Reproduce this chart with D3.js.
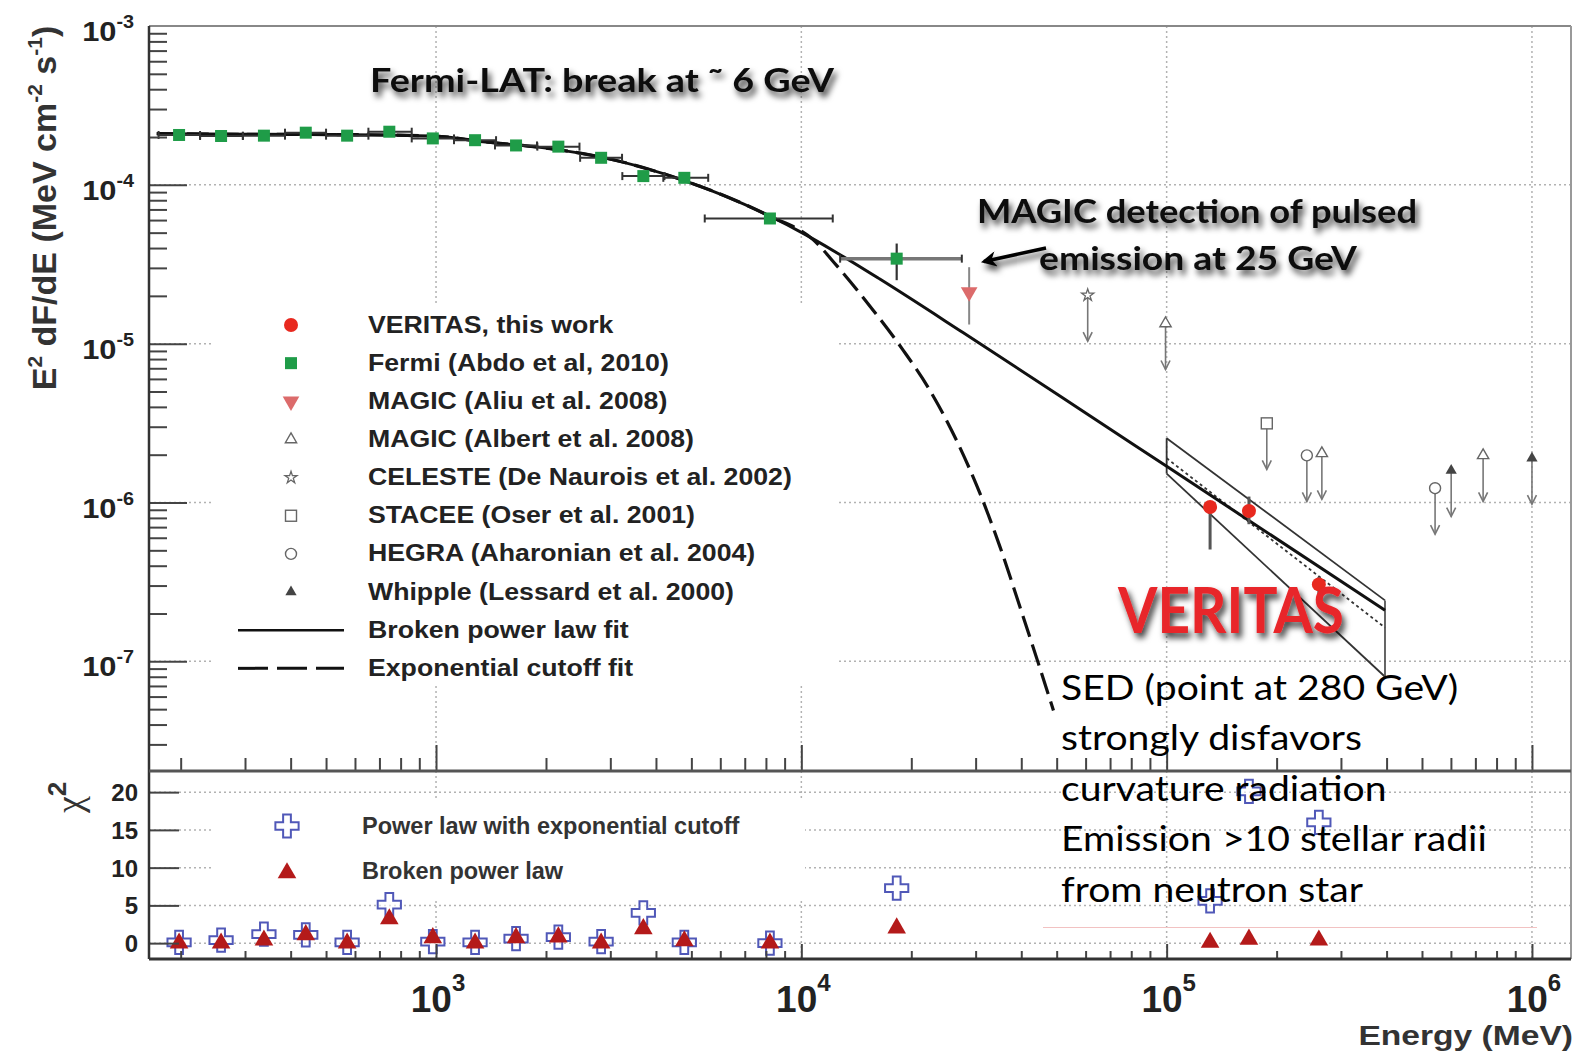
<!DOCTYPE html>
<html>
<head>
<meta charset="utf-8">
<script src="https://cdn.jsdelivr.net/npm/d3@7"></script>
<style>
  html, body { margin: 0; padding: 0; background: #fff; }
  svg { display: block; }
</style>
</head>
<body>
<svg id="chart" width="1579" height="1058"></svg>
<script>
// ---- values (energy in MeV, E^2 dF/dE in MeV cm^-2 s^-1) ----
const fermiE    = [198, 258, 338, 440, 571, 745, 980, 1279, 1656, 2162, 2831, 3694, 4783, 8204, 18240];
const fermiF    = [2.06e-4, 2.03e-4, 2.04e-4, 2.13e-4, 2.04e-4, 2.16e-4, 1.96e-4, 1.91e-4, 1.77e-4, 1.74e-4, 1.48e-4, 1.135e-4, 1.107e-4, 6.14e-5, 3.43e-5];
const fermiElo  = [174, 226, 296, 386, 500, 653, 858, 1120, 1450, 1894, 2480, 3236, 4190, 5440, 12770];
const fermiEhi  = [226, 296, 386, 500, 653, 858, 1120, 1460, 1890, 2470, 3230, 4220, 5560, 12190, 27500];
const fermiFlo  = [2.0e-4, 1.97e-4, 1.98e-4, 2.07e-4, 1.98e-4, 2.09e-4, 1.9e-4, 1.85e-4, 1.71e-4, 1.68e-4, 1.42e-4, 1.08e-4, 1.04e-4, 5.7e-5, 2.51e-5];
const fermiFhi  = [2.12e-4, 2.09e-4, 2.1e-4, 2.19e-4, 2.1e-4, 2.23e-4, 2.02e-4, 1.97e-4, 1.83e-4, 1.8e-4, 1.54e-4, 1.19e-4, 1.17e-4, 6.6e-5, 4.27e-5];

const veritasE   = [131500, 168000, 261000];
const veritasF   = [9.37e-7, 8.85e-7, 3.05e-7];
const veritasFlo = [5.06e-7, 7.3e-7, 2.5e-7];
const veritasFhi = [1.0e-6, 1.09e-6, 3.4e-7];

const magicAliuE   = [28800];
const magicAliuF   = [2.11e-5];
const magicAliuFlo = [1.32e-5];
const magicAliuFhi = [3.03e-5];

// upper limits
const celesteE     = [60800];
const celesteF     = [2.02e-5];
const magicAlbertE = [99300, 266000, 735000];
const magicAlbertF = [1.34e-5, 2.04e-6, 1.98e-6];
const staceeE      = [188000];
const staceeF      = [3.15e-6];
const hegraE       = [242000, 543000];
const hegraF       = [1.98e-6, 1.23e-6];
const whippleE     = [601000, 1000000];
const whippleF     = [1.59e-6, 1.90e-6];

// fitted curves
const brokenFitE = [172, 310, 582, 982, 1346, 2051, 2812, 4742, 8204, 10000, 12500, 16400, 27700, 57900, 100000, 396000];
const brokenFitF = [2.10e-4, 2.08e-4, 2.07e-4, 2.03e-4, 1.87e-4, 1.69e-4, 1.50e-4, 1.07e-4, 6.34e-5, 5.02e-5, 3.74e-5, 2.55e-5, 1.175e-5, 3.87e-6, 1.69e-6, 2.10e-7];
const cutoffFitE = [172, 310, 582, 982, 1346, 2051, 2812, 4742, 8204, 10770, 12500, 15740, 19010, 22490, 26600, 30830, 35000, 39700, 44600, 49000];
const cutoffFitF = [2.10e-4, 2.08e-4, 2.07e-4, 2.03e-4, 1.87e-4, 1.69e-4, 1.50e-4, 1.07e-4, 6.34e-5, 4.52e-5, 3.10e-5, 1.62e-5, 9.08e-6, 5.08e-6, 2.46e-6, 1.14e-6, 5.24e-7, 2.19e-7, 9.64e-8, 4.90e-8];

// VERITAS butterfly
const bowE      = [100000, 396000];
const bowUpperF = [2.54e-6, 2.42e-7];
const bowLowerF = [1.52e-6, 8.0e-8];
const bowBestF  = [1.90e-6, 1.63e-7];

// chi^2 panel
const chiE       = [198, 258, 338, 440, 571, 745, 980, 1279, 1656, 2162, 2831, 3694, 4783, 8204, 18240, 131500, 168000, 261000];
const chiCutoff  = [0.1, 0.4, 1.2, 1.1, 0.1, 5.1, 0.2, 0.1, 0.6, 0.8, 0.2, 4.0, 0.1, 0.0, 7.3, 5.6, 20.1, 16.0];
const chiBroken  = [0.0, 0.0, 0.4, 1.1, 0.0, 3.2, 0.7, 0.0, 0.7, 0.8, 0.0, 1.9, 0.3, 0.0, 2.0, 0.1, 0.5, 0.4];

// ticks / labels
const xDecades   = [1e3, 1e4, 1e5, 1e6];
const xExps      = ['3', '4', '5', '6'];
const yDecades   = [1e-3, 1e-4, 1e-5, 1e-6, 1e-7];
const yExps      = ['-3', '-4', '-5', '-6', '-7'];
const chiTicks   = [0, 5, 10, 15, 20];

const legendLabels = ['VERITAS, this work', 'Fermi (Abdo et al, 2010)', 'MAGIC (Aliu et al. 2008)',
  'MAGIC (Albert et al. 2008)', 'CELESTE (De Naurois et al. 2002)', 'STACEE (Oser et al. 2001)',
  'HEGRA (Aharonian et al. 2004)', 'Whipple (Lessard et al. 2000)', 'Broken power law fit', 'Exponential cutoff fit'];
const legendKinds = ['veritas', 'fermi', 'magicAliu', 'magicAlbert', 'celeste', 'stacee', 'hegra', 'whipple', 'solid', 'dashed'];
const chiLegendLabels = ['Power law with exponential cutoff', 'Broken power law'];
const noteLines = ['SED (point at 280 GeV)', 'strongly disfavors', 'curvature radiation', 'Emission >10 stellar radii', 'from neutron star'];

// ---- layout ----
const pLeft = 149, pRight = 1571, pTop = 26, pMid = 771, pBottom = 959;
const rootFont = '"Liberation Sans", Arial, Helvetica, sans-serif';
const posterFont = 'Lato, "Open Sans", sans-serif';

const svg = d3.select('#chart');
svg.append('rect').attr('width', 1579).attr('height', 1058).attr('fill', '#fff');

const x  = d3.scaleLog().domain([163.8, 1.279e6]).range([pLeft, pRight]);
const y  = d3.scaleLog().domain([2.04e-8, 1e-3]).range([pMid, pTop]);
const y2 = d3.scaleLinear().domain([-2.1, 22.8]).range([pBottom, pMid]);

const defs = svg.append('defs');
defs.append('filter').attr('id', 'shadow')
  .attr('x', '-20%').attr('y', '-50%').attr('width', '140%').attr('height', '220%')
  .append('feDropShadow').attr('dx', 3).attr('dy', 5).attr('stdDeviation', 3.2)
  .attr('flood-color', '#000').attr('flood-opacity', 0.75);
defs.append('marker').attr('id', 'head').attr('viewBox', '0 0 10 10')
  .attr('refX', 8).attr('refY', 5).attr('markerWidth', 5).attr('markerHeight', 4.4)
  .attr('orient', 'auto')
  .append('path').attr('d', 'M0,0 L10,5 L0,10 L3,5 z').attr('fill', '#000');
defs.append('clipPath').attr('id', 'topclip')
  .append('rect').attr('x', pLeft).attr('y', pTop).attr('width', pRight - pLeft).attr('height', pMid - pTop);

// ---- grid ----
const grid = svg.append('g').attr('stroke', '#b2b2b2').attr('stroke-width', 1.5).attr('stroke-dasharray', '2,3');
grid.selectAll('line.gx').data(xDecades).join('line').attr('class', 'gx')
  .attr('x1', d => x(d)).attr('x2', d => x(d)).attr('y1', pTop).attr('y2', pBottom);
grid.selectAll('line.gy').data(yDecades.slice(1)).join('line').attr('class', 'gy')
  .attr('x1', pLeft).attr('x2', pRight).attr('y1', d => y(d)).attr('y2', d => y(d));
grid.selectAll('line.gc').data(chiTicks).join('line').attr('class', 'gc')
  .attr('x1', pLeft).attr('x2', pRight).attr('y1', d => y2(d)).attr('y2', d => y2(d));

// legend backgrounds hide the grid
svg.append('rect').attr('x', 213).attr('y', 305).attr('width', 624).attr('height', 379).attr('fill', '#fff');
svg.append('rect').attr('x', 214).attr('y', 800).attr('width', 591).attr('height', 98).attr('fill', '#fff');

// ---- markers ----
const sym = (type, size) => d3.symbol().type(type).size(size)();
function marker(g, kind, cx, cy) {
  const t = `translate(${cx},${cy})`;
  switch (kind) {
    case 'veritas':
      g.append('circle').attr('cx', cx).attr('cy', cy).attr('r', 7).attr('fill', '#e8291f'); break;
    case 'fermi':
      g.append('rect').attr('x', cx - 6).attr('y', cy - 6).attr('width', 12).attr('height', 12).attr('fill', '#1f9c48'); break;
    case 'magicAliu':
      g.append('path').attr('d', sym(d3.symbolTriangle, 120)).attr('transform', t + ' rotate(180)').attr('fill', '#dc6b6b'); break;
    case 'magicAlbert':
      g.append('path').attr('d', sym(d3.symbolTriangle, 55)).attr('transform', t)
        .attr('fill', '#fff').attr('stroke', '#666').attr('stroke-width', 1.4); break;
    case 'celeste':
      g.append('path').attr('d', sym(d3.symbolStar, 45)).attr('transform', t)
        .attr('fill', '#fff').attr('stroke', '#666').attr('stroke-width', 1.3); break;
    case 'stacee':
      g.append('rect').attr('x', cx - 5.5).attr('y', cy - 5.5).attr('width', 11).attr('height', 11)
        .attr('fill', '#fff').attr('stroke', '#666').attr('stroke-width', 1.4); break;
    case 'hegra':
      g.append('circle').attr('cx', cx).attr('cy', cy).attr('r', 5.5)
        .attr('fill', '#fff').attr('stroke', '#666').attr('stroke-width', 1.4); break;
    case 'whipple':
      g.append('path').attr('d', sym(d3.symbolTriangle, 55)).attr('transform', t).attr('fill', '#444'); break;
  }
}

// ---- fits ----
const curves = svg.append('g').attr('clip-path', 'url(#topclip)');
const fitLine = d3.line().x(d => x(d[0])).y(d => y(d[1])).curve(d3.curveMonotoneX);

// butterfly
const bow = curves.append('g').attr('fill', 'none').attr('stroke', '#333').attr('stroke-width', 1.8);
bow.append('path').attr('d', fitLine(d3.zip(bowE, bowUpperF)));
bow.append('path').attr('d', fitLine(d3.zip(bowE, bowLowerF)));
bowE.forEach((e, i) => bow.append('line').attr('x1', x(e)).attr('x2', x(e))
  .attr('y1', y(bowUpperF[i])).attr('y2', y(bowLowerF[i])).attr('stroke', i ? '#555' : '#333'));
bow.append('path').attr('d', fitLine(d3.zip(bowE, bowBestF))).attr('stroke-dasharray', '3,3');

curves.append('path').attr('d', fitLine(d3.zip(cutoffFitE, cutoffFitF)))
  .attr('fill', 'none').attr('stroke', '#111').attr('stroke-width', 3.2).attr('stroke-dasharray', '22,8');
curves.append('path').attr('d', fitLine(d3.zip(brokenFitE, brokenFitF)))
  .attr('fill', 'none').attr('stroke', '#111').attr('stroke-width', 3);

// ---- data points ----
const pts = svg.append('g');
fermiE.forEach((e, i) => {
  const cy = y(fermiF[i]);
  pts.append('line').attr('x1', x(fermiElo[i])).attr('x2', x(fermiEhi[i])).attr('y1', cy).attr('y2', cy)
    .attr('stroke', i === 14 ? '#777' : '#333').attr('stroke-width', i === 14 ? 3.5 : 2);
  [fermiElo[i], fermiEhi[i]].forEach(v => pts.append('line').attr('x1', x(v)).attr('x2', x(v))
    .attr('y1', cy - 4).attr('y2', cy + 4).attr('stroke', '#333').attr('stroke-width', 2));
  pts.append('line').attr('x1', x(e)).attr('x2', x(e)).attr('y1', y(fermiFlo[i])).attr('y2', y(fermiFhi[i]))
    .attr('stroke', '#333').attr('stroke-width', 2.2);
});
fermiE.forEach((e, i) => marker(pts, 'fermi', x(e), y(fermiF[i])));

magicAliuE.forEach((e, i) => {
  pts.append('line').attr('x1', x(e)).attr('x2', x(e)).attr('y1', y(magicAliuFlo[i])).attr('y2', y(magicAliuFhi[i]))
    .attr('stroke', '#888').attr('stroke-width', 2);
  marker(pts, 'magicAliu', x(e), y(magicAliuF[i]));
});

veritasE.forEach((e, i) => {
  pts.append('line').attr('x1', x(e)).attr('x2', x(e)).attr('y1', y(veritasFlo[i])).attr('y2', y(veritasFhi[i]))
    .attr('stroke', '#555').attr('stroke-width', 3);
  marker(pts, 'veritas', x(e), y(veritasF[i]));
});

function upperLimit(kind, E, F) {
  const cx = x(E), cy = y(F), tip = cy + 46;
  const g = pts.append('g').attr('stroke', '#777').attr('stroke-width', 1.6).attr('fill', 'none');
  g.append('line').attr('x1', cx).attr('x2', cx).attr('y1', cy).attr('y2', tip);
  g.append('path').attr('d', `M${cx - 4.5},${tip - 9}L${cx},${tip}L${cx + 4.5},${tip - 9}`);
  marker(pts, kind, cx, cy);
}
celesteE.forEach((e, i) => upperLimit('celeste', e, celesteF[i]));
magicAlbertE.forEach((e, i) => upperLimit('magicAlbert', e, magicAlbertF[i]));
staceeE.forEach((e, i) => upperLimit('stacee', e, staceeF[i]));
hegraE.forEach((e, i) => upperLimit('hegra', e, hegraF[i]));
whippleE.forEach((e, i) => upperLimit('whipple', e, whippleF[i]));

// chi^2 markers
const chiG = svg.append('g');
function chiCross(cx, cy) {
  chiG.append('path').attr('d', sym(d3.symbolCross, 300)).attr('transform', `translate(${cx},${cy})`)
    .attr('fill', '#fff').attr('fill-opacity', 0.6).attr('stroke', '#5058b8').attr('stroke-width', 2);
}
function chiTri(cx, cy) {
  chiG.append('path').attr('d', sym(d3.symbolTriangle, 150)).attr('transform', `translate(${cx},${cy})`)
    .attr('fill', '#b41a1a');
}
chiE.forEach((e, i) => chiCross(x(e), y2(chiCutoff[i])));
chiE.forEach((e, i) => chiTri(x(e), y2(chiBroken[i])));

// ---- axes (ticks inside, ROOT style) ----
const isDecade = v => Math.abs(Math.log10(v) - Math.round(Math.log10(v))) < 1e-6;
function tickAxis(axis, tx, ty, values, size) {
  const g = svg.append('g').attr('transform', `translate(${tx},${ty})`)
    .call(axis.tickValues(values).tickSize(size).tickFormat(''));
  g.select('.domain').remove();
  g.selectAll('line').attr('stroke', '#444').attr('stroke-width', 2);
}
const yMinor = y.ticks().filter(v => !isDecade(v));
const xMinor = x.ticks().filter(v => !isDecade(v));
tickAxis(d3.axisRight(y), pLeft, 0, yDecades.slice(1), 38);
tickAxis(d3.axisRight(y), pLeft, 0, yMinor, 18);
tickAxis(d3.axisTop(x), 0, pMid, xDecades, 26);
tickAxis(d3.axisTop(x), 0, pMid, xMinor, 13);
tickAxis(d3.axisTop(x), 0, pBottom, xDecades, 15);
tickAxis(d3.axisTop(x), 0, pBottom, xMinor, 8);
tickAxis(d3.axisRight(y2), pLeft, 0, chiTicks, 30);

// frame
const frame = svg.append('g').attr('fill', 'none');
frame.append('line').attr('x1', pLeft).attr('x2', pRight).attr('y1', pTop).attr('y2', pTop).attr('stroke', '#888').attr('stroke-width', 2);
frame.append('line').attr('x1', pRight).attr('x2', pRight).attr('y1', pTop).attr('y2', pBottom).attr('stroke', '#999').attr('stroke-width', 2);
frame.append('line').attr('x1', pLeft).attr('x2', pLeft).attr('y1', pTop).attr('y2', pBottom).attr('stroke', '#333').attr('stroke-width', 2.5);
frame.append('line').attr('x1', pLeft).attr('x2', pRight).attr('y1', pMid).attr('y2', pMid).attr('stroke', '#555').attr('stroke-width', 3);
frame.append('line').attr('x1', pLeft).attr('x2', pRight).attr('y1', pBottom).attr('y2', pBottom).attr('stroke', '#333').attr('stroke-width', 3);

// ---- tick labels ----
const labels = svg.append('g').attr('font-family', rootFont).attr('font-weight', 'bold').attr('fill', '#222');
yDecades.forEach((d, i) => {
  const t = labels.append('text').attr('text-anchor', 'end')
    .attr('transform', `translate(134,${y(d) + 15}) scale(1.1,1)`);
  t.append('tspan').attr('font-size', 28).text('10');
  t.append('tspan').attr('font-size', 18).attr('dy', -13).text(yExps[i]);
});
xDecades.forEach((d, i) => {
  const t = labels.append('text').attr('text-anchor', 'middle')
    .attr('x', x(d) + 2).attr('y', 1012);
  t.append('tspan').attr('font-size', 37).text('10');
  t.append('tspan').attr('font-size', 24).attr('dy', -21).text(xExps[i]);
});
labels.selectAll('text.chi').data(chiTicks).join('text').attr('class', 'chi')
  .attr('x', 138).attr('y', d => y2(d) + 9).attr('text-anchor', 'end').attr('font-size', 24).text(d => d);

// axis titles
const yt = labels.append('text').attr('text-anchor', 'middle').attr('font-size', 34).attr('fill', '#333')
  .attr('transform', 'translate(56,208) rotate(-90)');
yt.append('tspan').text('E');
yt.append('tspan').attr('font-size', 21).attr('dy', -14).text('2');
yt.append('tspan').attr('dy', 14).text(' dF/dE (MeV cm');
yt.append('tspan').attr('font-size', 21).attr('dy', -14).text('-2');
yt.append('tspan').attr('dy', 14).text(' s');
yt.append('tspan').attr('font-size', 21).attr('dy', -14).text('-1');
yt.append('tspan').attr('dy', 14).text(')');

const ct = svg.append('text').attr('font-family', '"Liberation Serif", serif').attr('font-size', 38).attr('fill', '#333')
  .attr('transform', 'translate(82,813) rotate(-90)');
ct.append('tspan').text('χ');
ct.append('tspan').attr('font-size', 26).attr('dy', -16).attr('font-family', rootFont).attr('font-weight', 'bold').text('2');

labels.append('text').attr('text-anchor', 'end').attr('font-size', 28).attr('fill', '#333')
  .attr('transform', 'translate(1573,1045) scale(1.2,1)').text('Energy (MeV)');

// ---- legends ----
const leg = svg.append('g');
legendLabels.forEach((lab, i) => {
  const cy = 325 + i * 38.15;
  const kind = legendKinds[i];
  if (kind === 'solid' || kind === 'dashed') {
    leg.append('line').attr('x1', 238).attr('x2', 344).attr('y1', cy).attr('y2', cy)
      .attr('stroke', '#111').attr('stroke-width', kind === 'solid' ? 2.5 : 3)
      .attr('stroke-dasharray', kind === 'dashed' ? '30,9' : null);
  } else {
    marker(leg, kind, 291, cy);
  }
  leg.append('text').attr('transform', `translate(368,${cy + 7.5}) scale(1.16,1)`)
    .attr('font-family', rootFont).attr('font-weight', 'bold').attr('font-size', 23).attr('fill', '#222').text(lab);
});
chiCross(287, 826);
chiTri(287, 873);
chiLegendLabels.forEach((lab, i) => {
  leg.append('text').attr('x', 362).attr('y', 834 + i * 45)
    .attr('font-family', rootFont).attr('font-weight', 'bold').attr('font-size', 23.5).attr('fill', '#333').text(lab);
});

// ---- annotations ----
const ann = svg.append('g').attr('font-family', posterFont).attr('font-weight', 'bold').attr('filter', 'url(#shadow)');
function fitText(txt, x0, y0, w, size, color) {
  return ann.append('text').attr('x', x0).attr('y', y0).attr('font-size', size).attr('fill', color)
    .attr('textLength', w).attr('lengthAdjust', 'spacingAndGlyphs').text(txt);
}
fitText('Fermi-LAT: break at \u02DC 6 GeV', 370, 92, 464, 33, '#111');
fitText('MAGIC detection of pulsed', 977, 223, 440, 33, '#111');
fitText('emission at 25 GeV', 1039, 270, 318, 33, '#111');
fitText('VERITAS', 1118, 633, 226, 64, '#e8262a');
ann.append('line').attr('x1', 1046).attr('y1', 248).attr('x2', 984).attr('y2', 261.5)
  .attr('stroke', '#000').attr('stroke-width', 3.5).attr('marker-end', 'url(#head)');

// side note
svg.append('line').attr('x1', 1043).attr('x2', 1537).attr('y1', 927.5).attr('y2', 927.5)
  .attr('stroke', '#f2c2c2').attr('stroke-width', 1);
const note = svg.append('g').attr('font-family', posterFont).attr('font-size', 35).attr('fill', '#000');
const noteTexts = noteLines.map((s, i) => note.append('text').attr('x', 0).attr('y', 700 + i * 50.5).text(s));
const natural = noteTexts[3].node().getComputedTextLength();
note.attr('transform', `translate(1061,0) scale(${426 / natural},1)`);
</script>
</body>
</html>
